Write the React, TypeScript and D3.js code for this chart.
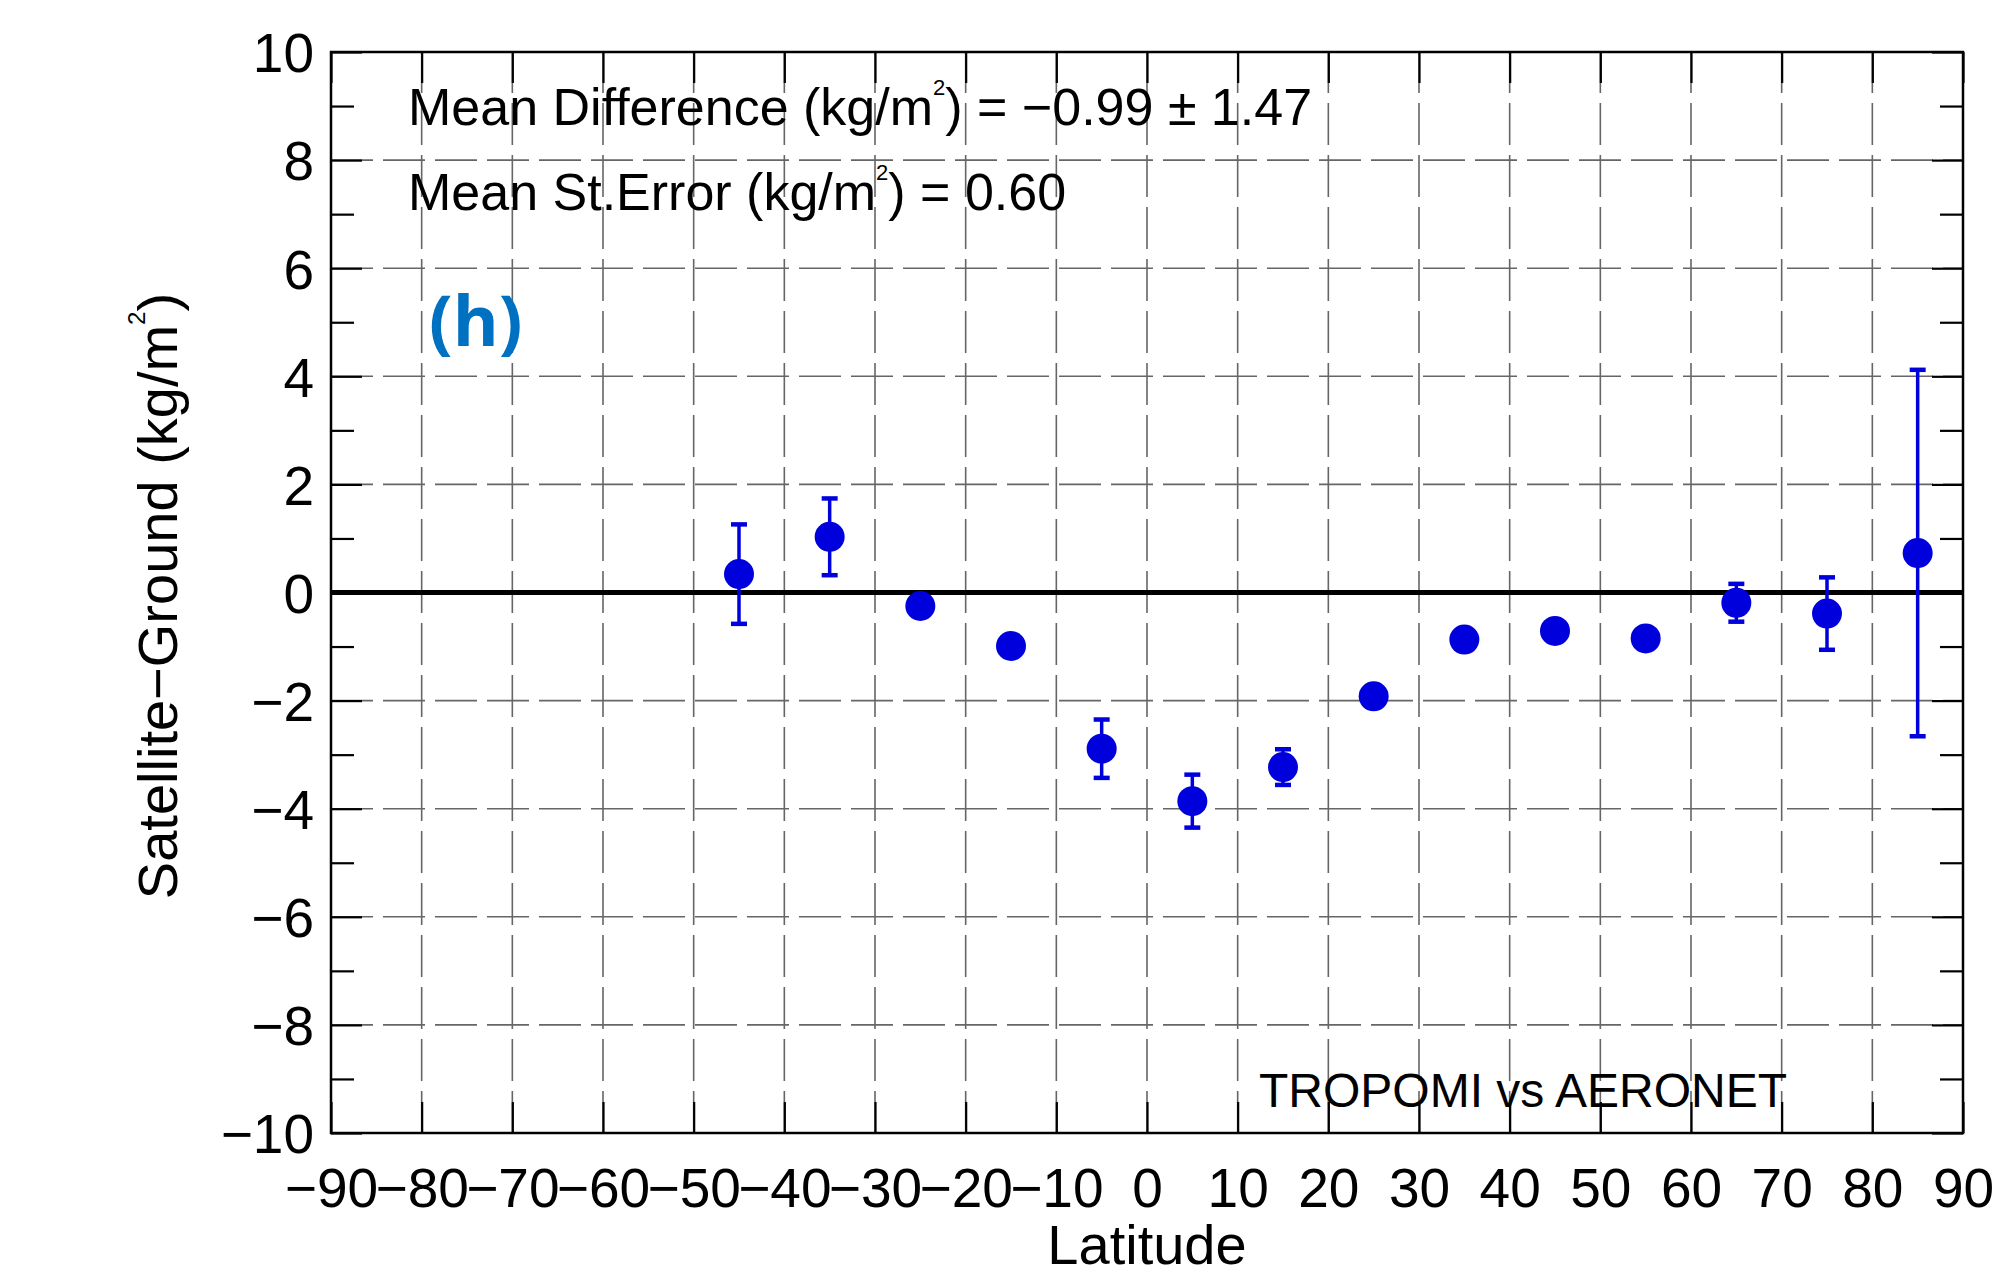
import React, { useEffect, useRef } from "react";
import * as d3 from "d3";

// latitude bin centres and the satellite - ground difference
const latitudes = [-45, -35, -25, -15, -5, 5, 15, 25, 35, 45, 55, 65, 75, 85];
const meanDiff = [0.34, 1.03, -0.25, -0.99, -2.89, -3.86, -3.23, -1.92, -0.87, -0.71, -0.85, -0.19, -0.39, 0.73];
const stdErr = [0.92, 0.71, 0.08, 0.08, 0.54, 0.49, 0.33, 0.1, 0.08, 0.08, 0.08, 0.35, 0.67, 3.39];

const xTicks = d3.range(-90, 91, 10);
const yTicks = d3.range(-10, 11, 2);
const yMinorTicks = d3.range(-9, 10, 2);

const statLines = [
  { label: "Mean Difference (kg/m", tail: ") = \u22120.99 \u00b1 1.47" },
  { label: "Mean St.Error (kg/m", tail: ") = 0.60" },
];
const panelLabel = "(h)";
const compareLabel = "TROPOMI vs AERONET";

const width = 2011;
const height = 1271;
const margin = { top: 52, right: 48, bottom: 138, left: 331 };

const App = () => {
  const ref = useRef<SVGSVGElement>(null);

  useEffect(() => {
    const svg = d3.select(ref.current);
    svg.selectAll("*").remove();

    const x0 = margin.left, x1 = width - margin.right;
    const y0 = margin.top, y1 = height - margin.bottom;
    const xScale = d3.scaleLinear().domain([-90, 90]).range([x0, x1]);
    const yScale = d3.scaleLinear().domain([-10, 10]).range([y1, y0]);
    const font = "'Liberation Sans', Arial, Helvetica, sans-serif";
    const blue = "#0000DC";

    // dashed grid
    const grid = svg.append("g").attr("stroke", "#666").attr("stroke-width", 1.6).attr("stroke-dasharray", "42,10");
    grid.selectAll(".vg").data(xTicks.slice(1, -1)).join("line").attr("class", "vg")
      .attr("x1", d => xScale(d)).attr("x2", d => xScale(d)).attr("y1", y1).attr("y2", y0);
    grid.selectAll(".hg").data(yTicks.slice(1, -1)).join("line").attr("class", "hg")
      .attr("x1", x0).attr("x2", x1).attr("y1", d => yScale(d)).attr("y2", d => yScale(d));

    // zero line
    svg.append("line").attr("x1", x0).attr("x2", x1).attr("y1", yScale(0)).attr("y2", yScale(0))
      .attr("stroke", "black").attr("stroke-width", 5);

    // axes, ticks pointing inwards on all four sides
    const fmt = d3.format("d");
    const bottom = svg.append("g").attr("transform", `translate(0,${y1})`)
      .call(d3.axisBottom(xScale).tickValues(xTicks).tickSize(-31).tickPadding(74).tickFormat(fmt));
    bottom.selectAll("text").attr("font-size", 55).attr("font-family", font).attr("fill", "black").attr("dy", 0);
    svg.append("g").attr("transform", `translate(0,${y0})`)
      .call(d3.axisTop(xScale).tickValues(xTicks).tickSize(-31).tickFormat(() => ""));
    const left = svg.append("g").attr("transform", `translate(${x0},0)`)
      .call(d3.axisLeft(yScale).tickValues(yTicks).tickSize(-31).tickPadding(17).tickFormat(fmt));
    left.selectAll("text").attr("font-size", 55).attr("font-family", font).attr("fill", "black").attr("dy", "0.36em");
    svg.append("g").attr("transform", `translate(${x0},0)`)
      .call(d3.axisLeft(yScale).tickValues(yMinorTicks).tickSize(-23).tickFormat(() => ""));
    svg.append("g").attr("transform", `translate(${x1},0)`)
      .call(d3.axisRight(yScale).tickValues(yTicks).tickSize(-31).tickFormat(() => ""));
    svg.append("g").attr("transform", `translate(${x1},0)`)
      .call(d3.axisRight(yScale).tickValues(yMinorTicks).tickSize(-23).tickFormat(() => ""));
    svg.selectAll(".domain").remove();
    svg.selectAll(".tick line").attr("stroke", "black").attr("stroke-width", 2.2);

    // frame
    svg.append("rect").attr("x", x0).attr("y", y0).attr("width", x1 - x0).attr("height", y1 - y0)
      .attr("fill", "none").attr("stroke", "black").attr("stroke-width", 2.5);

    // error bars and markers
    const pts = latitudes.map((lat, i) => ({ lat, v: meanDiff[i], e: stdErr[i] }));
    const eb = svg.append("g").attr("stroke", blue).attr("stroke-width", 3.5);
    eb.selectAll(".ev").data(pts).join("line").attr("class", "ev")
      .attr("x1", d => xScale(d.lat)).attr("x2", d => xScale(d.lat))
      .attr("y1", d => yScale(d.v + d.e)).attr("y2", d => yScale(d.v - d.e));
    eb.selectAll(".ct").data(pts).join("line").attr("class", "ct").attr("stroke-width", 4.5)
      .attr("x1", d => xScale(d.lat) - 8).attr("x2", d => xScale(d.lat) + 8)
      .attr("y1", d => yScale(d.v + d.e)).attr("y2", d => yScale(d.v + d.e));
    eb.selectAll(".cb").data(pts).join("line").attr("class", "cb").attr("stroke-width", 4.5)
      .attr("x1", d => xScale(d.lat) - 8).attr("x2", d => xScale(d.lat) + 8)
      .attr("y1", d => yScale(d.v - d.e)).attr("y2", d => yScale(d.v - d.e));
    svg.selectAll(".pt").data(pts).join("circle").attr("class", "pt").attr("r", 15).attr("fill", blue)
      .attr("cx", d => xScale(d.lat)).attr("cy", d => yScale(d.v));

    // statistics text
    statLines.forEach((s, i) => {
      const t = svg.append("text").attr("x", 408).attr("y", 125 + i * 85)
        .attr("font-family", font).attr("font-size", 52).attr("fill", "black");
      t.append("tspan").text(s.label);
      t.append("tspan").text("2").attr("font-size", 22).attr("dy", -30);
      t.append("tspan").text(s.tail).attr("dy", 30);
    });

    svg.append("text").attr("x", 429).attr("y", 346).text(panelLabel)
      .attr("font-family", "'Open Sans', Lato, sans-serif").attr("font-weight", "bold")
      .attr("font-size", 70).attr("fill", "#0070C0");

    svg.append("text").attr("x", 1259).attr("y", 1107).text(compareLabel)
      .attr("font-family", font).attr("font-size", 48).attr("fill", "black");

    // axis titles
    svg.append("text").attr("x", (x0 + x1) / 2).attr("y", 1264).attr("text-anchor", "middle")
      .text("Latitude").attr("font-family", font).attr("font-size", 56).attr("fill", "black");
    const yt = svg.append("text").attr("transform", `translate(177,596) rotate(-90)`).attr("text-anchor", "middle")
      .attr("font-family", font).attr("font-size", 56).attr("fill", "black");
    yt.append("tspan").text("Satellite\u2212Ground (kg/m");
    yt.append("tspan").text("2").attr("font-size", 24).attr("dy", -32);
    yt.append("tspan").text(")").attr("dy", 32);
  }, []);

  return (
    <svg ref={ref} width={width} height={height}
      style={{ position: "absolute", left: 0, top: 0, background: "white" }} />
  );
};

export default App;
